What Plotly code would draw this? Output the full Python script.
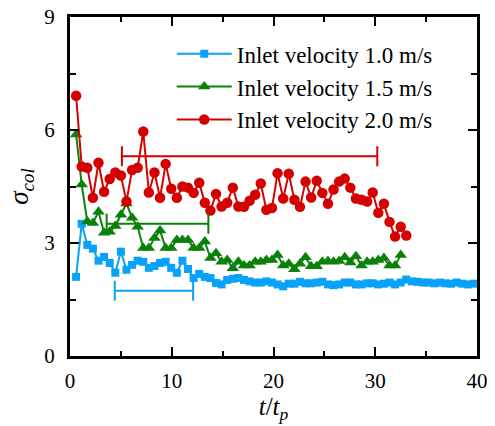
import plotly.graph_objects as go

# time samples t/t_p
t = [0.6, 1.15, 1.7, 2.25, 2.8, 3.35, 3.9, 4.45, 5.0, 5.55, 6.1, 6.65, 7.2, 7.75, 8.3, 8.85,
     9.4, 9.95, 10.5, 11.05, 11.6, 12.15, 12.7, 13.25, 13.8, 14.35, 14.9, 15.45, 16.0, 16.55,
     17.1, 17.65, 18.2, 18.75, 19.3, 19.85, 20.4, 20.95, 21.5, 22.05, 22.6, 23.15, 23.7, 24.25,
     24.8, 25.35, 25.9, 26.45, 27.0, 27.55, 28.1, 28.65, 29.2, 29.75, 30.3, 30.85, 31.4, 31.95,
     32.5, 33.05, 33.6, 34.15, 34.7, 35.25, 35.8, 36.35, 36.9, 37.45, 38.0, 38.55, 39.1, 39.65]

v10 = [2.1, 3.51, 2.95, 2.85, 2.53, 2.63, 2.47, 2.21, 2.77, 2.29, 2.42, 2.53, 2.5, 2.34, 2.39,
       2.47, 2.5, 2.34, 2.21, 2.53, 2.31, 2.07, 2.18, 2.1, 2.07, 1.94, 1.9, 2.02, 2.05, 2.07,
       2.02, 1.98, 1.95, 1.95, 1.98, 1.95, 1.9, 1.85, 1.92, 1.92, 1.97, 1.93, 1.93, 1.95, 1.97,
       1.9, 1.88, 1.9, 1.95, 1.95, 1.9, 1.9, 1.93, 1.93, 1.9, 1.92, 1.95, 1.9, 1.95, 2.03,
       1.98, 1.97, 1.95, 1.95, 1.93, 1.95, 1.93, 1.92, 1.95, 1.92, 1.9, 1.92]

v15 = [5.88, 4.55, 3.57, 3.53, 3.83, 3.27, 3.3, 3.45, 3.75, 4.05, 3.67, 3.43, 2.87, 2.87, 3.13,
       3.33, 2.87, 2.87, 3.08, 3.08, 3.08, 2.87, 2.87, 3.04, 2.6, 2.73, 2.5, 2.55, 2.33, 2.5,
       2.4, 2.4, 2.5, 2.5, 2.55, 2.55, 2.68, 2.4, 2.45, 2.3, 2.45, 2.62, 2.38, 2.38, 2.5,
       2.52, 2.5, 2.52, 2.62, 2.48, 2.65, 2.4, 2.5, 2.5, 2.55, 2.6, 2.4, 2.4, 2.68]

v20 = [6.91, 5.03, 5.0, 4.2, 5.13, 4.36, 4.7, 4.87, 4.79, 4.1, 4.94, 5.0, 5.96, 4.34, 4.87,
       4.2, 5.1, 4.44, 4.2, 4.5, 4.47, 4.33, 4.6, 4.07, 3.86, 4.3, 3.97, 4.07, 4.47, 3.97,
       3.96, 4.12, 4.28, 4.58, 3.88, 3.93, 4.85, 4.18, 4.84, 4.15, 3.96, 4.63, 4.21, 4.65, 4.33,
       4.04, 4.42, 4.63, 4.71, 4.47, 4.18, 4.15, 4.1, 4.34, 3.8, 4.04, 3.56, 3.17, 3.43, 3.2]

# averaging-window bars: (start, end, level)
bar10 = [4.4, 12.1, 1.73]
bar15 = [3.6, 13.6, 3.51]
bar20 = [5.1, 30.2, 5.3]

names = ["Inlet velocity 1.0 m/s", "Inlet velocity 1.5 m/s", "Inlet velocity 2.0 m/s"]
colors = ["#08A2FA", "#0A820A", "#D50000"]
symbols = ["square", "triangle-up", "circle"]
sizes = [8, 11, 10.5]
series = [v10, v15, v20]
bars = [bar10, bar15, bar20]

fig = go.Figure()
for i in range(3):
    y = series[i]
    fig.add_trace(go.Scatter(
        x=t[:len(y)], y=y, mode="lines+markers", name=names[i],
        line=dict(color=colors[i], width=2),
        marker=dict(symbol=symbols[i], size=sizes[i], color=colors[i]),
    ))
for i in range(3):
    b = bars[i]
    fig.add_trace(go.Scatter(
        x=[(b[0] + b[1]) / 2], y=[b[2]], mode="markers", showlegend=False,
        marker=dict(size=1, color="rgba(0,0,0,0)"),
        error_x=dict(type="constant", value=(b[1] - b[0]) / 2, color=colors[i],
                     thickness=2, width=10),
        hoverinfo="skip",
    ))

axis_common = dict(
    showline=True, linecolor="black", linewidth=3, mirror="allticks",
    ticks="inside", ticklen=9, tickwidth=2, tickcolor="black",
    showgrid=False, zeroline=False, automargin=False,
    tickfont=dict(family="Liberation Serif", size=21, color="black"),
)

fig.update_xaxes(range=[0, 40], tickvals=[0, 10, 20, 30, 40],
                 minor=dict(dtick=5, ticks="inside", ticklen=5, tickwidth=2, tickcolor="black"),
                 title=dict(text="<i>t</i>/<i>t</i><sub><i>p</i></sub>",
                            font=dict(family="Liberation Serif", size=25, color="black"),
                            standoff=2),
                 ticklabelstandoff=4,
                 **axis_common)
fig.update_yaxes(range=[0, 9], tickvals=[0, 3, 6, 9],
                 minor=dict(dtick=1.5, ticks="inside", ticklen=6, tickwidth=2, tickcolor="black"),
                 title=dict(text="<i>σ</i><sub><i>col</i></sub>",
                            font=dict(family="Liberation Serif", size=27, color="black"),
                            standoff=8),
                 ticklabelstandoff=8,
                 **axis_common)

fig.update_layout(
    width=495, height=426,
    margin=dict(l=70, r=18, t=17, b=70),
    plot_bgcolor="white", paper_bgcolor="white",
    legend=dict(x=0.25, y=0.955, xanchor="left", yanchor="top",
                bgcolor="rgba(0,0,0,0)", itemwidth=55,
                font=dict(family="Liberation Serif", size=23, color="black")),
)

fig.write_html("out.html")
